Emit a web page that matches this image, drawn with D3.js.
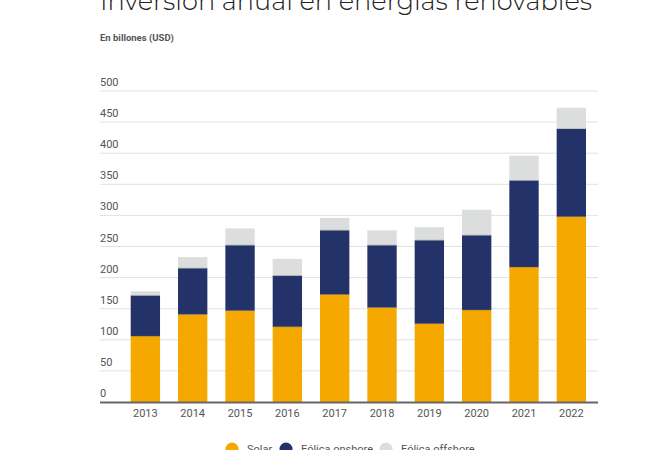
<!DOCTYPE html>
<html><head><meta charset="utf-8">
<script src="https://cdn.jsdelivr.net/npm/d3@7"></script>
<style>body{margin:0;background:#fff;}svg{display:block;}</style>
</head><body><svg id="c" width="670" height="450"></svg>
<script>
const years = ["2013","2014","2015","2016","2017","2018","2019","2020","2021","2022"];
const solar = [106,141,147,121,173,152,126,148,217,298];
const onshore = [65,74,105,82,103,100,134,120,139,141];
const offshore = [7,18,27,27,20,24,21,41,40,34];
const seriesNames = ["Solar","Eólica onshore","Eólica offshore"];
const seriesColors = ["#F5A800","#24326A","#DCDDDD"];
const yTicks = [0,50,100,150,200,250,300,350,400,450,500];

const svg = d3.select("#c");
const rows = years.map((y,i)=>({year:y, s0:solar[i], s1:onshore[i], s2:offshore[i]}));
const stack = d3.stack().keys(["s0","s1","s2"])(rows);

const x = d3.scaleBand().domain(years).range([121.7,595]).paddingInner(0.38).paddingOuter(0.19);
const y = d3.scaleLinear().domain([0,500]).range([402,91]);

// title
svg.append("text").attr("x",100).attr("y",10).attr("font-family","Montserrat, 'Open Sans', sans-serif")
  .attr("font-weight",300).attr("font-size",27).attr("fill","#222")
  .attr("textLength",492).attr("lengthAdjust","spacingAndGlyphs")
  .text("Inversión anual en energías renovables");
svg.append("text").attr("x",100).attr("y",41).attr("font-family","Roboto, sans-serif")
  .attr("font-weight",700).attr("font-size",9.5).attr("fill","#555").text("En billones (USD)");

// grid
const g = svg.append("g");
g.selectAll("line.grid").data(yTicks.filter(d=>d>0)).join("line")
  .attr("x1",100).attr("x2",598).attr("y1",d=>y(d)).attr("y2",d=>y(d))
  .attr("stroke","#e2e2e2").attr("stroke-width",1);
g.selectAll("text.yl").data(yTicks).join("text")
  .attr("x",100).attr("y",d=>y(d)-5).attr("font-family","Roboto, sans-serif")
  .attr("font-size",11).attr("fill","#555").text(d=>d);

// bars
svg.append("g").selectAll("g").data(stack).join("g").attr("fill",(d,i)=>seriesColors[i])
  .selectAll("rect").data(d=>d).join("rect")
  .attr("x",d=>x(d.data.year)).attr("width",x.bandwidth())
  .attr("y",d=>y(d[1])).attr("height",d=>y(d[0])-y(d[1]));

// segment separators
svg.append("g").selectAll("g").data(stack.slice(1)).join("g")
  .selectAll("line").data(d=>d).join("line")
  .attr("x1",d=>x(d.data.year)).attr("x2",d=>x(d.data.year)+x.bandwidth())
  .attr("y1",d=>y(d[0])).attr("y2",d=>y(d[0]))
  .attr("stroke","#555").attr("stroke-opacity",0.5).attr("stroke-width",0.8);

// baseline
svg.append("line").attr("x1",100).attr("x2",598).attr("y1",402.5).attr("y2",402.5)
  .attr("stroke","#666").attr("stroke-width",2);

// x labels
svg.append("g").selectAll("text").data(years).join("text")
  .attr("x",d=>x(d)+x.bandwidth()/2).attr("y",417).attr("text-anchor","middle")
  .attr("font-family","Roboto, sans-serif").attr("font-size",11).attr("fill","#555").text(d=>d);

// legend
const legX = [232,286,386];
const leg = svg.append("g").selectAll("g").data(seriesNames).join("g")
  .attr("transform",(d,i)=>`translate(${legX[i]},449)`);
leg.append("circle").attr("r",6.5).attr("fill",(d,i)=>seriesColors[i]);
leg.append("text").attr("x",15).attr("y",4).attr("font-family","Roboto, sans-serif")
  .attr("font-size",11).attr("fill","#555").text(d=>d);
</script></body></html>
